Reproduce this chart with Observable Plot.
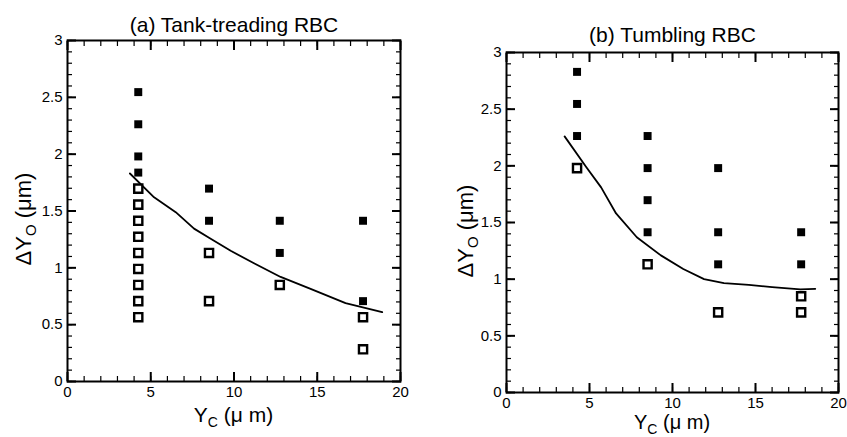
<!DOCTYPE html>
<html>
<head>
<meta charset="utf-8">
<script src="https://cdn.jsdelivr.net/npm/d3@7"></script>
<script src="https://cdn.jsdelivr.net/npm/@observablehq/plot@0.6"></script>
<style>
  html, body { margin: 0; padding: 0; background: #fff; }
  body { width: 847px; height: 437px; overflow: hidden; position: relative; font-family: "Liberation Sans", Arial, sans-serif; }
  .panel { position: absolute; top: 0; height: 437px; }
  #a { left: 0; width: 420px; }
  #b { left: 420px; width: 427px; }
</style>
</head>
<body>
<div id="a" class="panel"></div>
<div id="b" class="panel"></div>
<script>
// ---- shared axis ticks ----
const xTicks = [0, 5, 10, 15, 20];
const yTicks = [0, 0.5, 1, 1.5, 2, 2.5, 3];
const xMinor = d3.range(0, 21, 1);
const yMinor = d3.range(0, 31, 1).map(d => d / 10);

// ---- panel (a) Tank-treading RBC ----
const aTitle = "(a) Tank-treading RBC";
const aFilledX = [4.25, 4.25, 4.25, 4.25, 8.5, 8.5, 12.75, 12.75, 17.75, 17.75];
const aFilledY = [2.546, 2.263, 1.98, 1.838, 1.697, 1.414, 1.414, 1.131, 1.414, 0.707];
const aOpenX = [4.25, 4.25, 4.25, 4.25, 4.25, 4.25, 4.25, 4.25, 4.25, 8.5, 8.5, 12.75, 17.75, 17.75];
const aOpenY = [1.697, 1.556, 1.414, 1.273, 1.131, 0.99, 0.849, 0.707, 0.566, 1.131, 0.707, 0.849, 0.566, 0.283];
const aCurveX = [3.75, 5.2, 6.5, 7.6, 8.5, 9.8, 11.2, 12.8, 14.6, 16.7, 18.9];
const aCurveY = [1.83, 1.62, 1.49, 1.345, 1.265, 1.15, 1.04, 0.92, 0.815, 0.69, 0.61];

// ---- panel (b) Tumbling RBC ----
const bTitle = "(b) Tumbling RBC";
const bFilledX = [4.25, 4.25, 4.25, 8.5, 8.5, 8.5, 8.5, 12.75, 12.75, 12.75, 17.75, 17.75];
const bFilledY = [2.829, 2.546, 2.263, 2.263, 1.98, 1.697, 1.414, 1.98, 1.414, 1.131, 1.414, 1.131];
const bOpenX = [4.25, 8.5, 12.75, 17.75, 17.75];
const bOpenY = [1.98, 1.131, 0.707, 0.849, 0.707];
const bCurveX = [3.5, 4.8, 5.7, 6.6, 7.85, 9.3, 10.65, 11.9, 13.1, 14.6, 16.0, 17.7, 18.6];
const bCurveY = [2.26, 1.99, 1.81, 1.58, 1.37, 1.21, 1.09, 1.0, 0.965, 0.95, 0.93, 0.91, 0.915];

const zip = (xs, ys) => xs.map((x, i) => ({x, y: ys[i]}));

// inward tick marks on all four sides, drawn by the library's axis marks
function inwardTicks(len, sw, xv, yv) {
  const o = {tickSize: -len, strokeWidth: sw, tickFormat: () => "", label: null, stroke: "black"};
  return [
    Plot.axisX({anchor: "bottom", ticks: xv, ...o}),
    Plot.axisX({anchor: "top", ticks: xv, ...o}),
    Plot.axisY({anchor: "left", ticks: yv, ...o}),
    Plot.axisY({anchor: "right", ticks: yv, ...o})
  ];
}

function panel(cfg) {
  const {width, height, mL, mR, mT, mB, title, titleDy, filled, open, curve} = cfg;
  return Plot.plot({
    width, height,
    marginLeft: mL, marginRight: mR, marginTop: mT, marginBottom: mB,
    style: {fontFamily: '"Liberation Sans", Arial, sans-serif'},
    x: {domain: [0, 20], label: null},
    y: {domain: [0, 3], label: null},
    marks: [
      Plot.axisX({ticks: xTicks, tickSize: 0, tickPadding: 5, fontSize: 15, tickFormat: d => String(d), label: null}),
      Plot.axisY({ticks: yTicks, tickSize: 0, tickPadding: 5, fontSize: 15, tickFormat: d => String(d), label: null}),
      Plot.frame({stroke: "black", strokeWidth: 2}),
      ...inwardTicks(5, 1.2, xMinor, yMinor),
      ...inwardTicks(9, 2, xTicks, yTicks),
      Plot.line(curve, {x: "x", y: "y", stroke: "black", strokeWidth: 1.8}),
      Plot.dot(filled, {x: "x", y: "y", symbol: "square", r: 4.5, fill: "black"}),
      Plot.dot(open, {x: "x", y: "y", symbol: "square", r: 4.6, fill: "white", stroke: "black", strokeWidth: 2.4}),
      Plot.text([title], {text: d => d, frameAnchor: "top", dy: titleDy, fontSize: 21, fill: "black"})
    ]
  });
}

function addLabels(svg, cfg) {
  const s = d3.select(svg);
  const ff = '"Liberation Sans", Arial, sans-serif';
  // x label: Y_C (μ m)
  const xl = s.append("text")
    .attr("x", cfg.xlX).attr("y", cfg.xlY)
    .attr("text-anchor", "middle")
    .attr("font-family", ff).attr("font-size", cfg.xlSize).attr("fill", "black");
  xl.append("tspan").text("Y");
  xl.append("tspan").attr("font-size", 14).attr("dy", 5).text("C");
  xl.append("tspan").attr("dy", -5).text(" (\u03bc m)");
  // y label: ΔY_O (μm)
  const yl = s.append("text")
    .attr("transform", `translate(${cfg.ylX},${cfg.ylY}) rotate(-90)`)
    .attr("text-anchor", "middle")
    .attr("font-family", ff).attr("font-size", 22).attr("fill", "black");
  yl.append("tspan").text("\u0394Y");
  yl.append("tspan").attr("font-size", 15).attr("dy", 5).text("O");
  yl.append("tspan").attr("dy", -5).text(" (\u03bcm)");
}

const cfgA = {
  width: 420, height: 437, mL: 67, mR: 20, mT: 40, mB: 56,
  title: aTitle, titleDy: -23,
  filled: zip(aFilledX, aFilledY), open: zip(aOpenX, aOpenY), curve: zip(aCurveX, aCurveY),
  xlX: 233.5, xlY: 422, xlSize: 21, ylX: 31, ylY: 219
};
const cfgB = {
  width: 427, height: 437, mL: 86, mR: 9, mT: 52, mB: 45,
  title: bTitle, titleDy: -25,
  filled: zip(bFilledX, bFilledY), open: zip(bOpenX, bOpenY), curve: zip(bCurveX, bCurveY),
  xlX: 252, xlY: 429, xlSize: 20, ylX: 53, ylY: 231
};

for (const [id, cfg] of [["a", cfgA], ["b", cfgB]]) {
  const svg = panel(cfg);
  addLabels(svg, cfg);
  document.getElementById(id).appendChild(svg);
}
</script>
</body>
</html>
